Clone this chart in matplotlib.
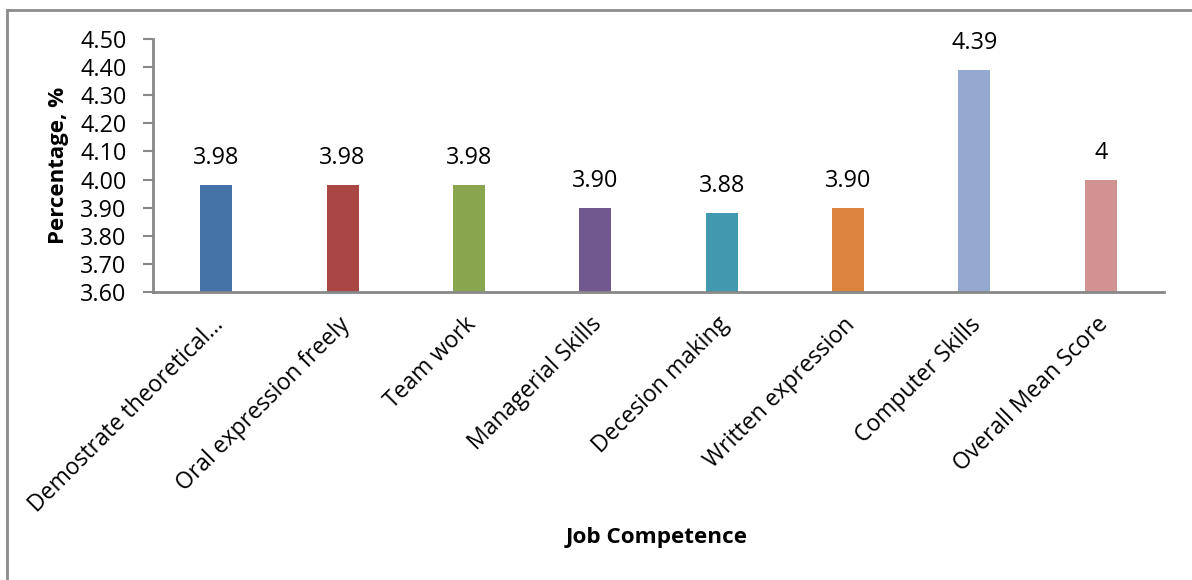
import matplotlib
matplotlib.use("Agg")
import matplotlib.pyplot as plt
import matplotlib.transforms as mtransforms
from matplotlib.lines import Line2D

categories = [
    "Demostrate theoretical...",
    "Oral expression freely",
    "Team work",
    "Managerial Skills",
    "Decesion making",
    "Written expression",
    "Computer Skills",
    "Overall Mean Score",
]
scores = [3.98, 3.98, 3.98, 3.90, 3.88, 3.90, 4.39, 4.00]
score_labels = ["3.98", "3.98", "3.98", "3.90", "3.88", "3.90", "4.39", "4"]
bar_colors = ["#4572A7", "#AA4643", "#89A54E", "#71588F",
              "#4198AF", "#DB843D", "#93A9CF", "#D19392"]
y_ticks = [3.60, 3.70, 3.80, 3.90, 4.00, 4.10, 4.20, 4.30, 4.40, 4.50]

plt.rcParams["font.family"] = ["Open Sans", "DejaVu Sans"]

fig = plt.figure(figsize=(11.92, 5.80), dpi=100)
ax = fig.add_axes([153 / 1192, 1 - 291.7 / 580, (1164 - 153) / 1192, (291.7 - 39.3) / 580])

x = list(range(len(categories)))
ax.bar(x, scores, width=0.253, color=bar_colors, bottom=0, zorder=2)

ax.set_ylim(3.60, 4.50)
ax.set_xlim(-0.5, len(categories) - 0.5)
ax.set_yticks(y_ticks)
ax.set_yticklabels([f"{v:.2f}" for v in y_ticks], fontsize=16.8)
ax.set_xticks(x)
ax.set_xticklabels(categories, rotation=45, ha="right", rotation_mode="anchor",
                   fontsize=16.5)
ax.tick_params(axis="x", length=0, pad=10)
ax.tick_params(axis="y", length=7, width=1.5, color="#888888", pad=12, direction="out")

# nudge the slanted category labels slightly down and to the left
shift = mtransforms.ScaledTranslation(-5 / 100, -7 / 100, fig.dpi_scale_trans)
for lbl in ax.get_xticklabels():
    lbl.set_transform(lbl.get_transform() + shift)

for side in ("top", "right"):
    ax.spines[side].set_visible(False)
for side in ("left", "bottom"):
    ax.spines[side].set_color("#888888")
    ax.spines[side].set_linewidth(2)

for xi, v, lab in zip(x, scores, score_labels):
    ax.annotate(lab, (xi, v), xytext=(0, 27), textcoords="offset pixels",
                ha="center", va="center", fontsize=16.8)

ax.set_ylabel("Percentage, %", fontsize=16, fontweight="bold", labelpad=8)
fig.text(657 / 1192, 1 - 537 / 580, "Job Competence", ha="center", va="center",
         fontsize=16.2, fontweight="bold")

# outer frame of the chart area
fig.add_artist(Line2D([7 / 1192, 7 / 1192], [0, 1 - 9.5 / 580],
                      transform=fig.transFigure, color="#8c8c8c", lw=2))
fig.add_artist(Line2D([7 / 1192, 1], [1 - 9.5 / 580, 1 - 9.5 / 580],
                      transform=fig.transFigure, color="#8c8c8c", lw=2))

fig.savefig("out.png", dpi=100)
